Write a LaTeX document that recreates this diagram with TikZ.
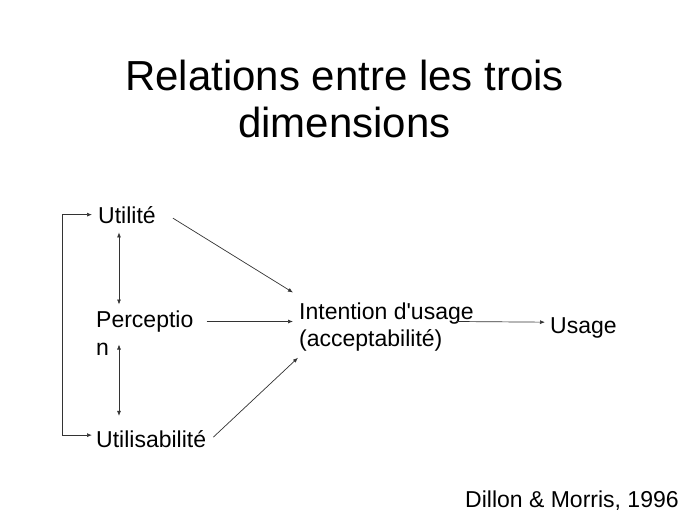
\documentclass[tikz,border=0pt]{standalone}
\usepackage{fontspec}
\setmainfont{Liberation Sans}[Ligatures=TeXOff]
\usetikzlibrary{arrows.meta}
\begin{document}
\begin{tikzpicture}[x=1pt,y=-1pt,
  lbl/.style={inner sep=0pt, font=\fontsize{23}{27}\selectfont, text=black},
  arr/.style={draw=black!80, line width=0.7pt, -{Latex[length=5pt,width=4pt]}},
  dbl/.style={draw=black!80, line width=0.7pt, {Latex[length=5pt,width=4pt]}-{Latex[length=5pt,width=4pt]}}]
\useasboundingbox (0,0) rectangle (689,517);
\fill[white] (0,0) rectangle (689,517);
\node[inner sep=0pt, anchor=north, align=center, font=\fontsize{42}{47}\selectfont] (title) at (344.5,60) {Relations entre les trois\\dimensions};
\node[lbl, anchor=base west] (util) at (98,223) {Utilité};
\node[lbl, anchor=north west, align=left, font=\fontsize{23}{28}\selectfont] (perc) at (96,310.5) {Perceptio\\n};
\node[lbl, anchor=base west] (utilis) at (96,447) {Utilisabilité};
\node[lbl, anchor=north west, align=left] (inten) at (299,302.5) {Intention d'usage\\(acceptabilité)};
\node[lbl, anchor=base west] (usage) at (550,333) {Usage};
\node[lbl, anchor=base west] (ref) at (465,507) {Dillon \& Morris, 1996};
% loop
\draw[dbl] ([xshift=-6pt]util.west) -- ++(-30,0) |- ([xshift=-4pt,yshift=3.5pt]utilis.west);
% vertical double arrows
\draw[dbl] ([shift={(21pt,-9pt)}]util.south west) -- ([shift={(23pt,6pt)}]perc.north west);
\draw[dbl] ([shift={(23pt,-34pt)}]perc.north west) -- ([shift={(23pt,14pt)}]utilis.north west);
% to intention
\draw[arr] ([shift={(17pt,-3.5pt)}]util.east) -- ([shift={(-6pt,10pt)}]inten.north west);
\draw[arr] ([shift={(13pt,-11pt)}]perc.north east) -- ([shift={(-6pt,-19pt)}]inten.north west);
\draw[arr] ([shift={(7pt,1.5pt)}]utilis.east) -- ([shift={(-1pt,-6.4pt)}]inten.south west);
\draw[arr] ([shift={(-17pt,-19pt)}]inten.north east) -- ([shift={(-5pt,5.3pt)}]usage.west);
\end{tikzpicture}
\end{document}
